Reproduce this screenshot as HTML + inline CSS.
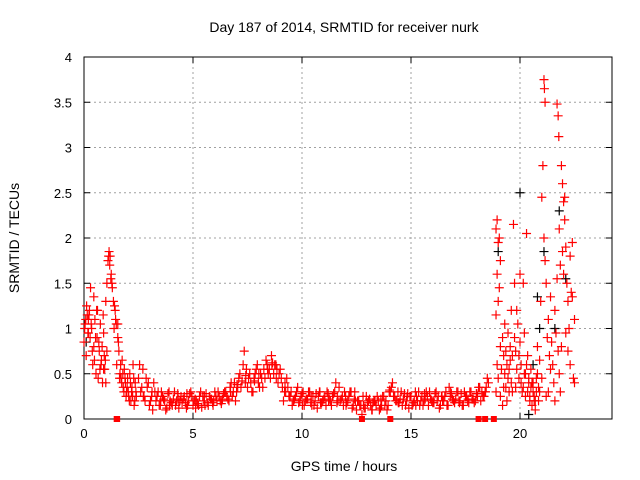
<!DOCTYPE html>
<html><head><meta charset="utf-8"><style>
body{margin:0;background:#fff}
svg{display:block;font-family:"Liberation Sans",sans-serif}
</style></head><body>
<svg id="chart" width="640" height="480" viewBox="0 0 640 480">
<rect width="640" height="480" fill="#fff"/>
<g id="grid"></g>
<g id="axes"></g>
<g id="marks"></g>
<text x="344" y="32" font-size="14" text-anchor="middle">Day 187 of 2014, SRMTID for receiver nurk</text>
<text x="344" y="471" font-size="14" text-anchor="middle">GPS time / hours</text>
<text x="19" y="238" font-size="14" text-anchor="middle" transform="rotate(-90 19 238)">SRMTID / TECUs</text>
</svg>
<script>
const xTicks=[0,5,10,15,20];
const yTicks=[0,0.5,1,1.5,2,2.5,3,3.5,4];
const yTickLabels=["0","0.5","1","1.5","2","2.5","3","3.5","4"];
const segATimes=[0,0.05,0.1,0.15,0.2,0.25,0.3,0.35,0.4,0.45,0.5,0.55,0.6,0.65,0.7,0.75,0.8,0.85,0.9,0.95,1.0,1.05,1.1,1.15,1.2,1.25,1.3,1.35,1.4,1.45,1.5,1.55,1.6,1.65,1.7,1.75,1.8,1.85,1.9,1.95,2.0,2.05,2.1,2.15,2.2,2.25,2.3,2.35,2.4,0.12,0.2,0.28,0.45,0.62,0.9,1.0,1.05,1.38,1.55,0.03,0.08,0.18,0.23,0.33,0.38,0.48,0.53,0.58,0.68,0.73,0.78,0.83,0.88,0.93,0.98,1.13,1.18,1.23,1.28,1.43,1.48,1.58,1.63,1.68,1.73,1.78,1.83,1.88,1.93,1.98,2.03,2.08,2.13,2.18,2.23,2.28,2.33,2.38];
const segAVals=[0.85,1.05,0.7,1.15,0.95,1.2,1.45,1.0,0.6,0.8,1.1,0.5,0.9,0.45,0.75,1.05,0.65,0.4,0.95,0.55,1.3,0.75,1.75,1.85,1.8,1.6,1.45,1.3,1.25,1.1,0.6,1.05,0.75,0.5,0.45,0.65,0.35,0.55,0.4,0.3,0.45,0.25,0.5,0.2,0.35,0.6,0.15,0.4,0.25,1.25,1.1,0.9,1.35,1.2,0.55,0.4,1.5,1.0,0.9,1.0,1.1,0.95,1.15,1.05,0.75,0.65,0.9,1.2,0.85,0.55,0.6,0.8,1.15,0.7,0.65,1.8,1.7,1.55,1.5,1.2,1.05,0.85,0.45,0.6,0.4,0.5,0.3,0.45,0.25,0.35,0.3,0.2,0.4,0.3,0.25,0.45,0.2,0.3];
const segBTimes=[2.5,2.6,2.7,2.8,2.9,3.0,3.1,3.2,3.3,3.4,3.5,3.6,3.7,3.8,3.9,4.0,4.1,4.2,4.3,4.4,4.5,4.6,4.7,4.8,4.9,5.0,5.1,5.2,5.3,5.4,5.5,5.6,5.7,5.8,5.9,6.0,6.1,6.2,6.3,6.4,6.5,6.6,6.7,6.8,6.9,7.0,7.1,7.2,7.3,7.4,7.5,7.6,7.7,7.8,7.9,8.0,8.1,8.2,8.3,8.4,8.5,8.6,8.7,8.8,8.9,9.0,9.1,9.2,9.3,9.4,9.5,9.6,9.7,9.8,9.9,10.0,10.1,10.2,10.3,10.4,10.5,10.6,10.7,10.8,10.9,11.0,11.1,11.2,11.3,11.4,11.5,11.6,11.7,11.8,11.9,12.0,12.1,12.2,12.3,12.4,12.5,12.6,12.7,12.8,12.9,13.0,13.1,13.2,13.3,13.4,13.5,13.6,13.7,13.8,13.9,14.0,14.1,14.2,14.3,14.4,14.5,14.6,14.7,14.8,14.9,15.0,15.1,15.2,15.3,15.4,15.5,15.6,15.7,15.8,15.9,16.0,16.1,16.2,16.3,16.4,16.5,16.6,16.7,16.8,16.9,17.0,17.1,17.2,17.3,17.4,17.5,17.6,17.7,17.8,17.9,18.0,18.1,18.2,18.3,18.4,18.5];
const segBVals=[0.45,0.3,0.55,0.2,0.35,0.15,0.25,0.4,0.2,0.3,0.15,0.25,0.2,0.12,0.3,0.18,0.22,0.15,0.28,0.2,0.18,0.25,0.12,0.2,0.3,0.15,0.22,0.17,0.25,0.13,0.2,0.28,0.15,0.22,0.18,0.3,0.2,0.25,0.17,0.28,0.3,0.22,0.35,0.25,0.4,0.3,0.45,0.35,0.6,0.4,0.35,0.5,0.3,0.45,0.55,0.4,0.5,0.35,0.45,0.6,0.55,0.7,0.5,0.6,0.4,0.55,0.35,0.3,0.45,0.25,0.3,0.2,0.25,0.35,0.2,0.28,0.15,0.22,0.3,0.18,0.25,0.2,0.12,0.3,0.18,0.22,0.15,0.28,0.2,0.25,0.3,0.18,0.35,0.22,0.15,0.25,0.2,0.3,0.12,0.22,0.1,0.2,0.15,0.25,0.12,0.18,0.22,0.1,0.2,0.15,0.2,0.12,0.25,0.15,0.1,0.3,0.35,0.25,0.2,0.3,0.22,0.15,0.28,0.2,0.12,0.25,0.18,0.3,0.2,0.15,0.25,0.2,0.3,0.15,0.22,0.18,0.28,0.2,0.12,0.25,0.2,0.3,0.15,0.25,0.22,0.18,0.3,0.2,0.28,0.15,0.25,0.2,0.3,0.22,0.18,0.28,0.35,0.2,0.25,0.3,0.45];
const segB2Times=[2.55,2.75,2.95,3.15,3.35,3.55,3.75,3.95,4.15,4.35,4.55,4.75,4.95,5.15,5.35,5.55,5.75,5.95,6.15,6.35,6.55,6.75,6.95,7.15,7.35,7.55,7.75,7.95,8.15,8.35,8.55,8.75,8.95,9.15,9.35,9.55,9.75,9.95,10.15,10.35,10.55,10.75,10.95,11.15,11.35,11.55,11.75,11.95,12.15,12.35,12.55,12.75,12.95,13.15,13.35,13.55,13.75,13.95,14.15,14.35,14.55,14.75,14.95,15.15,15.35,15.55,15.75,15.95,16.15,16.35,16.55,16.75,16.95,17.15,17.35,17.55,17.75,17.95,18.15,18.35,18.55];
const segB2Vals=[0.6,0.25,0.4,0.1,0.25,0.3,0.1,0.2,0.3,0.12,0.22,0.15,0.25,0.2,0.3,0.15,0.25,0.2,0.3,0.22,0.25,0.4,0.2,0.5,0.75,0.45,0.3,0.6,0.45,0.65,0.45,0.6,0.5,0.2,0.35,0.15,0.3,0.25,0.2,0.3,0.15,0.25,0.2,0.3,0.15,0.4,0.2,0.3,0.25,0.15,0.2,0.05,0.25,0.15,0.2,0.1,0.25,0.15,0.4,0.2,0.3,0.15,0.25,0.2,0.3,0.15,0.25,0.2,0.3,0.15,0.25,0.35,0.2,0.3,0.15,0.25,0.3,0.2,0.35,0.25,0.4];
const segB3Times=[2.65,2.85,3.05,3.25,3.45,3.65,3.85,4.05,4.25,4.45,4.65,4.85,5.05,5.25,5.45,5.65,5.85,6.05,6.25,6.45,6.65,6.85,7.05,7.25,7.45,7.65,7.85,8.05,8.25,8.45,8.65,8.85,9.05,9.25,9.45,9.65,9.85,10.05,10.25,10.45,10.65,10.85,11.05,11.25,11.45,11.65,11.85,12.05,12.25,12.45,12.65,12.85,13.05,13.25,13.45,13.65,13.85,14.05,14.25,14.45,14.65,14.85,15.05,15.25,15.45,15.65,15.85,16.05,16.25,16.45,16.65,16.85,17.05,17.25,17.45,17.65,17.85,18.05,18.25,18.45];
const segB3Vals=[0.35,0.45,0.2,0.3,0.15,0.22,0.28,0.15,0.2,0.25,0.18,0.28,0.2,0.15,0.25,0.18,0.22,0.25,0.2,0.3,0.2,0.3,0.35,0.42,0.55,0.4,0.5,0.35,0.55,0.5,0.62,0.55,0.45,0.3,0.25,0.22,0.18,0.3,0.22,0.15,0.28,0.18,0.25,0.22,0.28,0.2,0.25,0.18,0.3,0.2,0.15,0.12,0.2,0.18,0.25,0.15,0.2,0.3,0.25,0.18,0.22,0.28,0.15,0.25,0.2,0.22,0.3,0.18,0.25,0.2,0.15,0.28,0.22,0.2,0.3,0.18,0.22,0.25,0.3,0.35];
const segB4Times=[2.72,3.12,3.52,3.92,4.32,4.72,5.12,5.52,5.92,6.32,6.72,7.02,7.42,7.82,8.02,8.42,8.62,8.82,9.22,9.62,10.02,10.42,10.82,11.22,11.62,12.02,12.42,12.82,13.22,13.62,14.02,14.42,14.82,15.22,15.62,16.02,16.42,16.82,17.22,17.62,18.02,18.42];
const segB4Vals=[0.25,0.3,0.2,0.15,0.22,0.28,0.12,0.25,0.15,0.2,0.3,0.38,0.48,0.42,0.5,0.55,0.6,0.45,0.4,0.2,0.15,0.25,0.3,0.2,0.25,0.15,0.3,0.15,0.1,0.22,0.32,0.18,0.25,0.15,0.28,0.2,0.25,0.3,0.18,0.22,0.28,0.3];
const zeroTimes=[1.5,1.52,12.75,14.05,18.1,18.4,18.8];
const zeroVals=[0,0,0,0,0,0,0];
const segCTimes=[18.9,18.95,19.0,19.05,18.95,19.0,19.05,19.1,18.9,19.1,18.95,19.0,18.9,19.1,19.2,19.25,19.3,19.35,19.4,19.45,19.5,19.55,19.6,19.65,19.3,19.4,19.5,19.7,19.75,19.8,19.85,19.9,19.95,20.0,20.05,20.1,20.15,20.2,20.25,20.3,20.35,20.4,20.45,20.5,20.55,20.6,20.65,20.7,20.75,20.8,20.85,20.9,21.0,21.05,21.1,21.12,21.15,21.0,21.1,21.15,21.2,21.25,21.3,21.35,21.4,21.45,21.5,21.55,21.6,21.65,21.7,21.75,21.78,21.8,21.85,21.9,21.95,22.0,22.05,22.1,22.15,22.2,22.25,22.3,22.35,22.4,22.45,22.5,21.85,21.9,22.0,22.1,22.2,22.3,22.4,22.5,21.7,21.8,21.6,21.4,21.3,20.95,20.9,20.8,21.2,22.05,21.95,21.75,19.2,19.6,19.8,20.0,19.15,19.25,19.35,19.45,19.55,19.65,19.75,19.85,19.95,20.05,20.15,20.25,20.35,20.45,20.55,20.65,20.75,20.85,20.5,20.6,20.7,20.4,20.3,20.2];
const segCVals=[2.1,2.2,1.95,2.0,1.6,1.3,1.45,1.75,1.15,0.8,0.6,0.45,0.3,0.25,0.9,0.7,0.5,0.35,0.6,0.95,0.55,0.8,0.4,0.7,1.05,0.2,0.3,2.15,1.5,0.75,1.2,1.05,0.45,0.85,0.6,0.3,1.5,0.95,0.25,2.05,0.7,0.45,0.2,0.35,0.15,0.4,0.25,0.1,0.3,0.5,0.2,0.3,0.45,2.8,3.75,3.65,3.5,2.45,2.0,1.75,1.5,0.9,1.1,0.7,0.55,0.85,0.6,0.4,1.2,0.95,3.48,3.35,3.12,2.1,1.7,2.8,2.6,2.4,2.2,1.9,1.5,1.3,1.0,0.6,1.4,1.95,0.45,1.1,0.3,0.8,1.6,0.95,0.75,1.8,1.35,0.4,1.55,0.5,0.2,1.35,0.3,1.3,0.65,0.8,0.25,2.45,1.85,0.75,0.15,1.2,0.35,1.6,0.55,0.35,0.75,0.45,0.65,0.3,0.9,0.55,0.7,0.4,0.35,0.5,0.3,0.25,0.4,0.2,0.45,0.35,0.55,0.3,0.2,0.4,0.6,0.5];
const blackTimes=[20.0,20.4,20.8,20.9,21.1,21.6,21.8,0.1,22.1,19.0,20.6];
const blackVals=[2.5,0.05,1.35,1.0,1.85,1.0,2.3,0.85,1.55,1.85,0.6];

const X0=84,X1=612,Y0=419,Y1=57,XMAX=24.22,YMAX=4;
const xs=t=>X0+(X1-X0)*t/XMAX;
const ys=v=>Y0-(Y0-Y1)*v/YMAX;
const NS="http://www.w3.org/2000/svg";
function mk(tag,attrs,parent){const e=document.createElementNS(NS,tag);for(const k in attrs)e.setAttribute(k,attrs[k]);parent.appendChild(e);return e;}
const grid=document.getElementById('grid'),axes=document.getElementById('axes'),marks=document.getElementById('marks');
xTicks.forEach(t=>{
  const x=xs(t);
  if(t>0){const g=mk('line',{x1:x,x2:x,y1:Y1,y2:Y0,stroke:'#a0a0a0','stroke-dasharray':'2,3'},grid);
  
  }
  mk('line',{x1:x,x2:x,y1:Y0,y2:Y0-6,stroke:'#000'},axes);
  mk('line',{x1:x,x2:x,y1:Y1,y2:Y1+6,stroke:'#000'},axes);
  const l=mk('text',{x:x,y:Y0+19,'font-size':13,'text-anchor':'middle'},axes);
  l.textContent=t;
  
  
});
yTicks.forEach((v,i)=>{
  const y=ys(v);
  if(v>0&&v<YMAX){const g=mk('line',{x1:X0,x2:X1,y1:y,y2:y,stroke:'#a0a0a0','stroke-dasharray':'2,3'},grid);
  
  }
  mk('line',{x1:X0,x2:X0+6,y1:y,y2:y,stroke:'#000'},axes);
  mk('line',{x1:X1,x2:X1-6,y1:y,y2:y,stroke:'#000'},axes);
  const l=mk('text',{x:X0-12,y:y+5,'font-size':13,'text-anchor':'end'},axes);
  l.textContent=yTickLabels[i];
  
  
});
const fr=mk('rect',{x:X0,y:Y1,width:X1-X0,height:Y0-Y1,fill:'none',stroke:'#000'},axes);


function plus(t,v,color){
  const x=xs(t),y=ys(v);
  const p=mk('path',{d:`M${x-4.5},${y}h9M${x},${y-4.5}v9`,stroke:color,'stroke-width':1.2,fill:'none'},marks);
  
  
}
blackTimes.forEach((t,i)=>plus(t,blackVals[i],'#000'));
[[segATimes,segAVals],[segBTimes,segBVals],[segB2Times,segB2Vals],[segB3Times,segB3Vals],[segB4Times,segB4Vals],[segCTimes,segCVals]].forEach(([T,V])=>T.forEach((t,i)=>plus(t,V[i],'#f00')));
zeroTimes.forEach((t,i)=>{
  const x=xs(t),y=ys(zeroVals[i]);
  const r=mk('rect',{x:x-3,y:y-3,width:6,height:6,fill:'#f00'},marks);
  
  
});
</script>
</body></html>
